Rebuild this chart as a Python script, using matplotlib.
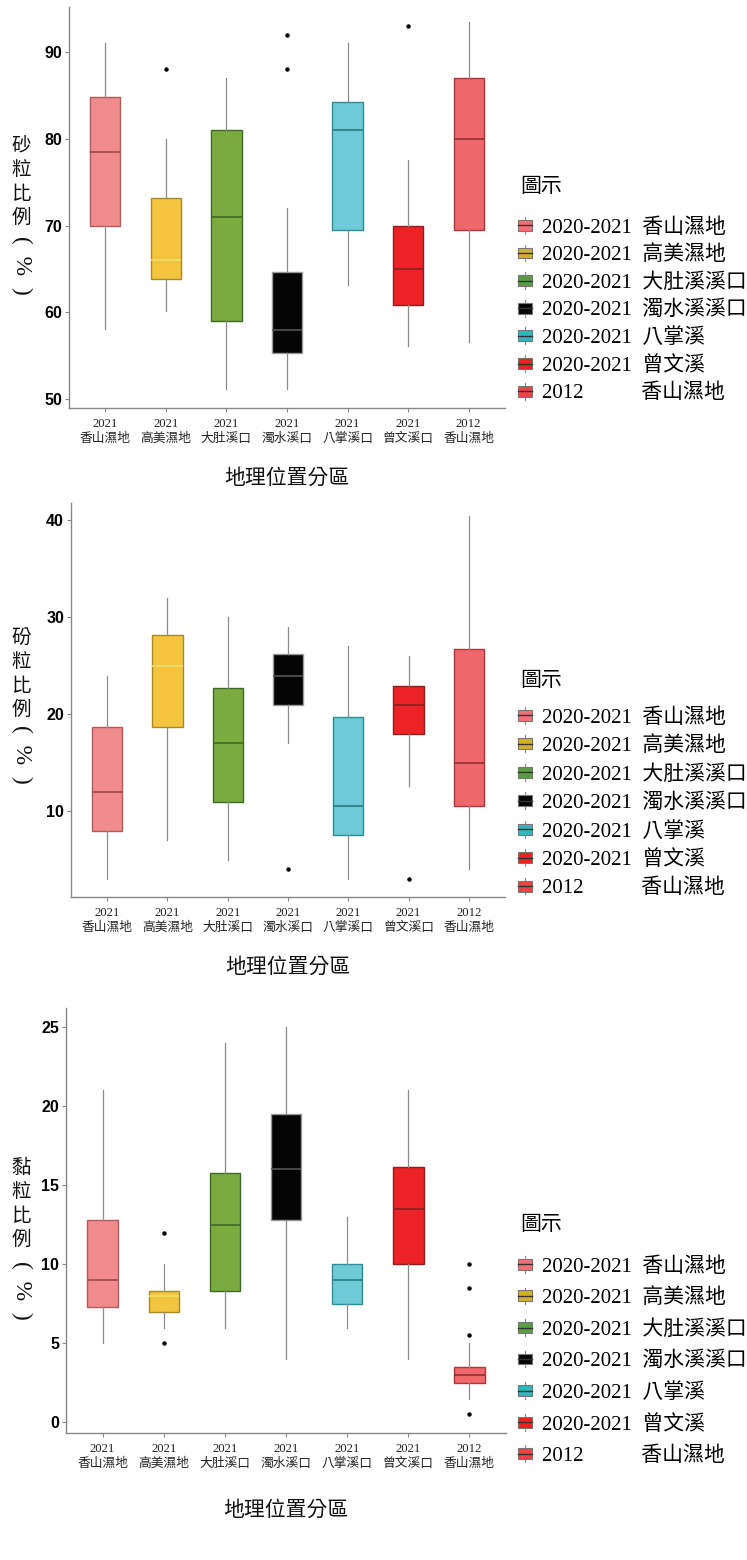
import numpy as np
import matplotlib.pyplot as plt
from matplotlib.patches import Rectangle
from matplotlib.lines import Line2D
from matplotlib.legend_handler import HandlerBase

plt.rcParams['font.family'] = ['Liberation Serif', 'Noto Sans CJK TC']
CJK = ['Liberation Serif', 'Noto Sans CJK TC']

# 分區 (x 軸)
sitios = ['2021\n香山濕地', '2021\n高美濕地', '2021\n大肚溪口', '2021\n濁水溪口',
          '2021\n八掌溪口', '2021\n曾文溪口', '2012\n香山濕地']
leyenda = ['2020-2021  香山濕地', '2020-2021  高美濕地', '2020-2021  大肚溪溪口',
           '2020-2021  濁水溪溪口', '2020-2021  八掌溪', '2020-2021  曾文溪',
           '2012           香山濕地']

# 砂粒比例 (%)
arena_whislo = [58.1, 60.1, 51.1, 51.1, 63.1, 56.1, 56.6]
arena_q1 = [70.0, 63.8, 59.0, 55.3, 69.5, 60.8, 69.5]
arena_med = [78.5, 66.0, 71.0, 58.0, 81.0, 65.0, 80.0]
arena_q3 = [84.8, 73.2, 81.0, 64.7, 84.2, 70.0, 87.0]
arena_whishi = [91.0, 80.0, 87.0, 72.0, 91.0, 77.5, 93.5]
arena_out = [[], [88.0], [], [92.0, 88.0], [], [93.0], []]

# 砏粒比例 (%)
limo_whislo = [3.0, 7.0, 5.0, 17.0, 3.0, 12.6, 4.0]
limo_q1 = [8.0, 18.7, 11.0, 21.0, 7.5, 18.0, 10.5]
limo_med = [12.0, 25.0, 17.0, 24.0, 10.5, 21.0, 15.0]
limo_q3 = [18.7, 28.2, 22.7, 26.2, 19.7, 22.9, 26.7]
limo_whishi = [24.0, 32.0, 30.0, 29.0, 27.0, 26.0, 40.5]
limo_out = [[], [], [], [4.0], [], [3.0], []]

# 黏粒比例 (%)
arcilla_whislo = [5.0, 6.0, 6.0, 4.0, 6.0, 4.0, 1.5]
arcilla_q1 = [7.3, 7.0, 8.3, 12.8, 7.5, 10.0, 2.5]
arcilla_med = [9.0, 8.0, 12.5, 16.0, 9.0, 13.5, 3.0]
arcilla_q3 = [12.8, 8.3, 15.75, 19.5, 10.0, 16.15, 3.5]
arcilla_whishi = [21.0, 10.0, 24.0, 25.0, 13.0, 21.0, 5.0]
arcilla_out = [[], [12.0, 5.0], [], [], [], [], [10.0, 8.5, 5.5, 0.5]]

# colores
relleno = ['#F28B8D', '#F4C43E', '#7BAA3F', '#050505', '#6DCAD6', '#EC2225', '#EF686B']
borde = ['#B05A5C', '#A8892A', '#3E6A28', '#999999', '#2A8E96', '#8E1E1E', '#B23436']
mediana = ['#9A4A4C', '#E8E070', '#3E6A28', '#555555', '#2A7A80', '#8E1E1E', '#8E3032']
clave = ['#F07173', '#D4AF2C', '#5A9E41', '#050505', '#30B7BF', '#EE2020', '#EE4245']


class BoxKey(HandlerBase):
    def create_artists(self, legend, orig_handle, xdescent, ydescent, width, height, fontsize, trans):
        c = orig_handle.get_facecolor()
        bw, bh = width, height * 0.75
        y0 = (height - bh) / 2 - ydescent
        x0 = -xdescent
        rect = Rectangle((x0, y0), bw, bh, facecolor=c, edgecolor='#777777', lw=0.8, transform=trans)
        med = Line2D([x0, x0 + bw], [y0 + bh / 2] * 2, color='#333333', lw=1.0, transform=trans)
        w1 = Line2D([x0 + bw / 2] * 2, [y0 + bh, y0 + bh + height * 0.2], color='#888888', lw=0.8, transform=trans)
        w2 = Line2D([x0 + bw / 2] * 2, [y0, y0 - height * 0.2], color='#888888', lw=0.8, transform=trans)
        return [w1, w2, rect, med]


def panel(ax, whislo, q1, med, q3, whishi, out, ylim, yticks, lpad):
    stats = []
    for i in range(len(sitios)):
        stats.append(dict(whislo=whislo[i], q1=q1[i], med=med[i], q3=q3[i],
                          whishi=whishi[i], fliers=out[i]))
    pos = np.arange(1, len(sitios) + 1)
    for i, s in enumerate(stats):
        ax.bxp([s], positions=[pos[i]], widths=0.5, patch_artist=True, showcaps=False,
               boxprops=dict(facecolor=relleno[i], edgecolor=borde[i], lw=1.0),
               medianprops=dict(color=mediana[i], lw=1.2),
               whiskerprops=dict(color='#8C8C8C', lw=0.9),
               flierprops=dict(marker='o', markersize=2.2, markerfacecolor='black',
                               markeredgecolor='black'))
    ax.set_xlim(0.4, 7.6)
    ax.set_ylim(*ylim)
    ax.set_yticks(yticks)
    ax.set_xticks(pos)
    ax.set_xticklabels(sitios, fontsize=9.2, family=CJK, linespacing=1.3, color='#222222')
    for lab in ax.get_yticklabels():
        lab.set_fontfamily('Liberation Sans')
        lab.set_fontweight('bold')
        lab.set_fontsize(11.5)
    for s in ['top', 'right']:
        ax.spines[s].set_visible(False)
    for s in ['left', 'bottom']:
        ax.spines[s].set_color('#888888')
        ax.spines[s].set_linewidth(1.0)
    ax.tick_params(axis='x', length=3, width=0.8, color='#888888', pad=4)
    ax.tick_params(axis='y', length=3, width=0.8, color='#888888', pad=2)
    ax.set_xlabel('地理位置分區', fontsize=15, family=CJK, labelpad=lpad, color='#111111')


W, H = 747, 1560
fig = plt.figure(figsize=(W / 100, H / 100), dpi=100)

def px_axes(l, r, t, b):
    return fig.add_axes([l / W, 1 - b / H, (r - l) / W, (b - t) / H])

ax1 = px_axes(69, 505, 7, 408)
panel(ax1, arena_whislo, arena_q1, arena_med, arena_q3, arena_whishi, arena_out,
      (48.96, 95.2), [50, 60, 70, 80, 90], 17)
ax2 = px_axes(71, 505, 503, 897)
panel(ax2, limo_whislo, limo_q1, limo_med, limo_q3, limo_whishi, limo_out,
      (1.15, 41.8), [10, 20, 30, 40], 17)
ax3 = px_axes(66, 506, 1008, 1433)
panel(ax3, arcilla_whislo, arcilla_q1, arcilla_med, arcilla_q3, arcilla_whishi, arcilla_out,
      (-0.67, 26.2), [0, 5, 10, 15, 20, 25], 22)

# etiquetas del eje y (vertical)
ylabels = [('砂\n粒\n比\n例', 181.5, 265), ('砏\n粒\n比\n例', 673.5, 754), ('黏\n粒\n比\n例', 1203.5, 1290)]
for txt, yc, yp in ylabels:
    fig.text(21 / W, 1 - yc / H, txt, fontsize=14, family=['Noto Sans CJK TC'], ha='center',
             va='center', linespacing=1.2, color='#111111')
    fig.text(22 / W, 1 - yp / H, '(  %  )', fontsize=17, family='Liberation Serif', ha='center',
             va='center', rotation=-90, color='#111111')

# leyendas
handles = [Rectangle((0, 0), 1, 1, facecolor=c) for c in clave]
for ax, ytit, ytop, sp in [(ax1, 188, 218, 0.38), (ax2, 681, 708, 0.42), (ax3, 1226, 1257, 0.57)]:
    fig.text(520 / W, 1 - ytit / H, '圖示', fontsize=15, family=CJK, ha='left', va='center')
    leg = ax.legend(handles, leyenda, handler_map={Rectangle: BoxKey()},
                    loc='upper left', bbox_to_anchor=(518 / W, 1 - ytop / H),
                    bbox_transform=fig.transFigure, frameon=False, fontsize=15,
                    handlelength=0.65, handleheight=0.7, handletextpad=0.5,
                    labelspacing=sp, borderpad=0, borderaxespad=0)
    for t in leg.get_texts():
        t.set_family(CJK)

fig.savefig('out.png', dpi=100)
